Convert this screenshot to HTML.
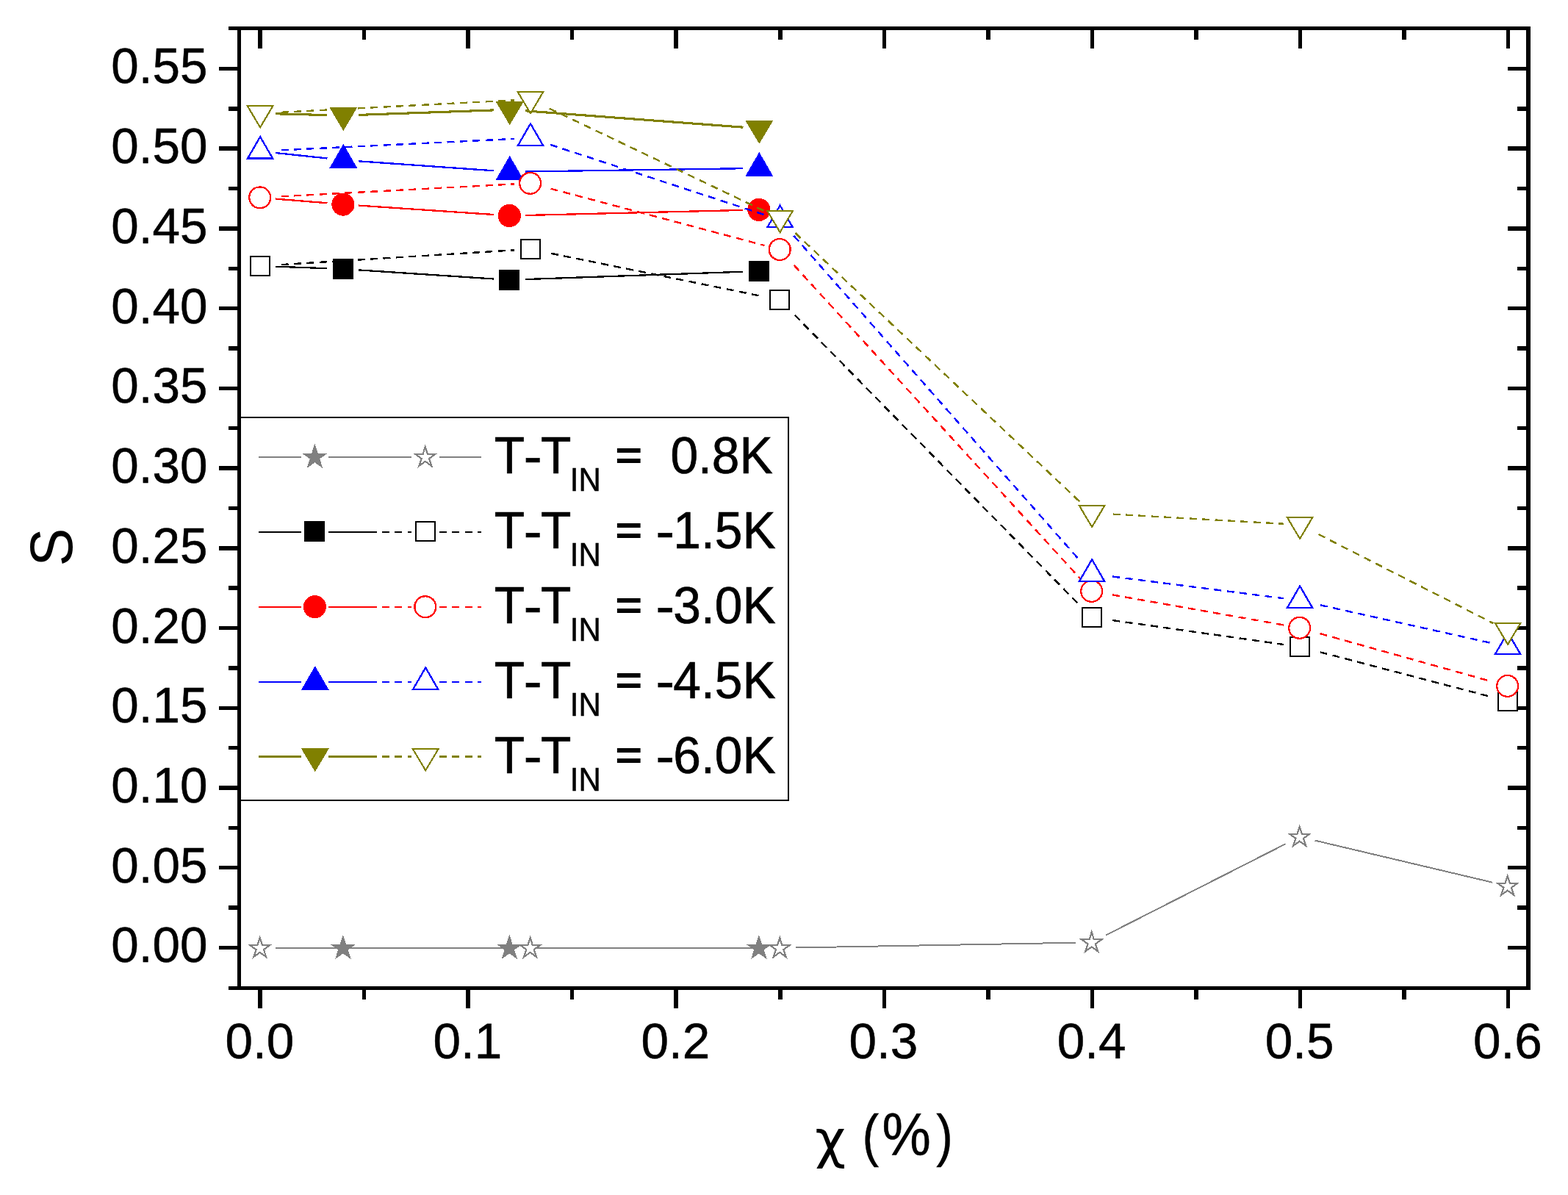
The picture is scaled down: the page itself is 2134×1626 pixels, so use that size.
<!DOCTYPE html>
<html lang="en"><head><meta charset="utf-8"><title>S vs chi</title>
<style>html,body{margin:0;padding:0;background:#fff;overflow:hidden}svg{display:block}text{font-family:"Liberation Sans",sans-serif;fill:#000}</style></head>
<body>
<svg width="2134" height="1626" viewBox="0 0 2134 1626" role="img" aria-label="Order parameter S versus concentration chi">
<rect x="0" y="0" width="2134" height="1626" fill="#ffffff"/>
<g shape-rendering="crispEdges" fill="#000">
<rect x="323.0" y="36.0" width="5.0" height="1311.0"/>
<rect x="2077.0" y="36.0" width="6.0" height="1311.0"/>
<rect x="323.0" y="36.0" width="1760.0" height="5.0"/>
<rect x="323.0" y="1342.0" width="1760.0" height="5.0"/>
<rect x="310.5" y="1342.0" width="13.5" height="5.0"/>
<rect x="298.0" y="1286.7" width="26.0" height="5.5"/>
<rect x="2052.0" y="1286.7" width="26.0" height="5.5"/>
<rect x="310.5" y="1232.3" width="13.5" height="5.5"/>
<rect x="2064.5" y="1232.3" width="13.5" height="5.5"/>
<rect x="298.0" y="1177.9" width="26.0" height="5.5"/>
<rect x="2052.0" y="1177.9" width="26.0" height="5.5"/>
<rect x="310.5" y="1123.6" width="13.5" height="5.5"/>
<rect x="2064.5" y="1123.6" width="13.5" height="5.5"/>
<rect x="298.0" y="1069.2" width="26.0" height="5.5"/>
<rect x="2052.0" y="1069.2" width="26.0" height="5.5"/>
<rect x="310.5" y="1014.8" width="13.5" height="5.5"/>
<rect x="2064.5" y="1014.8" width="13.5" height="5.5"/>
<rect x="298.0" y="960.5" width="26.0" height="5.5"/>
<rect x="2052.0" y="960.5" width="26.0" height="5.5"/>
<rect x="310.5" y="906.1" width="13.5" height="5.5"/>
<rect x="2064.5" y="906.1" width="13.5" height="5.5"/>
<rect x="298.0" y="851.8" width="26.0" height="5.5"/>
<rect x="2052.0" y="851.8" width="26.0" height="5.5"/>
<rect x="310.5" y="797.4" width="13.5" height="5.5"/>
<rect x="2064.5" y="797.4" width="13.5" height="5.5"/>
<rect x="298.0" y="743.0" width="26.0" height="5.5"/>
<rect x="2052.0" y="743.0" width="26.0" height="5.5"/>
<rect x="310.5" y="688.7" width="13.5" height="5.5"/>
<rect x="2064.5" y="688.7" width="13.5" height="5.5"/>
<rect x="298.0" y="634.3" width="26.0" height="5.5"/>
<rect x="2052.0" y="634.3" width="26.0" height="5.5"/>
<rect x="310.5" y="579.9" width="13.5" height="5.5"/>
<rect x="2064.5" y="579.9" width="13.5" height="5.5"/>
<rect x="298.0" y="525.6" width="26.0" height="5.5"/>
<rect x="2052.0" y="525.6" width="26.0" height="5.5"/>
<rect x="310.5" y="471.2" width="13.5" height="5.5"/>
<rect x="2064.5" y="471.2" width="13.5" height="5.5"/>
<rect x="298.0" y="416.9" width="26.0" height="5.5"/>
<rect x="2052.0" y="416.9" width="26.0" height="5.5"/>
<rect x="310.5" y="362.5" width="13.5" height="5.5"/>
<rect x="2064.5" y="362.5" width="13.5" height="5.5"/>
<rect x="298.0" y="308.1" width="26.0" height="5.5"/>
<rect x="2052.0" y="308.1" width="26.0" height="5.5"/>
<rect x="310.5" y="253.8" width="13.5" height="5.5"/>
<rect x="2064.5" y="253.8" width="13.5" height="5.5"/>
<rect x="298.0" y="199.4" width="26.0" height="5.5"/>
<rect x="2052.0" y="199.4" width="26.0" height="5.5"/>
<rect x="310.5" y="145.0" width="13.5" height="5.5"/>
<rect x="2064.5" y="145.0" width="13.5" height="5.5"/>
<rect x="298.0" y="90.7" width="26.0" height="5.5"/>
<rect x="2052.0" y="90.7" width="26.0" height="5.5"/>
<rect x="310.5" y="36.0" width="13.5" height="5.0"/>
<rect x="351.2" y="40.0" width="5.5" height="26.0"/>
<rect x="351.2" y="1346.0" width="5.5" height="26.0"/>
<rect x="492.8" y="40.0" width="5.5" height="13.5"/>
<rect x="492.8" y="1346.0" width="5.5" height="13.5"/>
<rect x="634.3" y="40.0" width="5.5" height="26.0"/>
<rect x="634.3" y="1346.0" width="5.5" height="26.0"/>
<rect x="775.9" y="40.0" width="5.5" height="13.5"/>
<rect x="775.9" y="1346.0" width="5.5" height="13.5"/>
<rect x="917.4" y="40.0" width="5.5" height="26.0"/>
<rect x="917.4" y="1346.0" width="5.5" height="26.0"/>
<rect x="1059.0" y="40.0" width="5.5" height="13.5"/>
<rect x="1059.0" y="1346.0" width="5.5" height="13.5"/>
<rect x="1200.5" y="40.0" width="5.5" height="26.0"/>
<rect x="1200.5" y="1346.0" width="5.5" height="26.0"/>
<rect x="1342.0" y="40.0" width="5.5" height="13.5"/>
<rect x="1342.0" y="1346.0" width="5.5" height="13.5"/>
<rect x="1483.6" y="40.0" width="5.5" height="26.0"/>
<rect x="1483.6" y="1346.0" width="5.5" height="26.0"/>
<rect x="1625.1" y="40.0" width="5.5" height="13.5"/>
<rect x="1625.1" y="1346.0" width="5.5" height="13.5"/>
<rect x="1766.7" y="40.0" width="5.5" height="26.0"/>
<rect x="1766.7" y="1346.0" width="5.5" height="26.0"/>
<rect x="1908.2" y="40.0" width="5.5" height="13.5"/>
<rect x="1908.2" y="1346.0" width="5.5" height="13.5"/>
<rect x="2049.7" y="40.0" width="5.5" height="26.0"/>
<rect x="2049.7" y="1346.0" width="5.5" height="26.0"/>
</g>
<g font-size="67.7px">
<text transform="translate(282.5,1309.4) scale(1,1.017)" text-anchor="end" font-size="67.5px" stroke="#000" stroke-width="0.5">0.00</text>
<text transform="translate(282.5,1200.7) scale(1,1.017)" text-anchor="end" font-size="67.5px" stroke="#000" stroke-width="0.5">0.05</text>
<text transform="translate(282.5,1092.0) scale(1,1.017)" text-anchor="end" font-size="67.5px" stroke="#000" stroke-width="0.5">0.10</text>
<text transform="translate(282.5,983.2) scale(1,1.017)" text-anchor="end" font-size="67.5px" stroke="#000" stroke-width="0.5">0.15</text>
<text transform="translate(282.5,874.5) scale(1,1.017)" text-anchor="end" font-size="67.5px" stroke="#000" stroke-width="0.5">0.20</text>
<text transform="translate(282.5,765.8) scale(1,1.017)" text-anchor="end" font-size="67.5px" stroke="#000" stroke-width="0.5">0.25</text>
<text transform="translate(282.5,657.0) scale(1,1.017)" text-anchor="end" font-size="67.5px" stroke="#000" stroke-width="0.5">0.30</text>
<text transform="translate(282.5,548.3) scale(1,1.017)" text-anchor="end" font-size="67.5px" stroke="#000" stroke-width="0.5">0.35</text>
<text transform="translate(282.5,439.6) scale(1,1.017)" text-anchor="end" font-size="67.5px" stroke="#000" stroke-width="0.5">0.40</text>
<text transform="translate(282.5,330.9) scale(1,1.017)" text-anchor="end" font-size="67.5px" stroke="#000" stroke-width="0.5">0.45</text>
<text transform="translate(282.5,222.2) scale(1,1.017)" text-anchor="end" font-size="67.5px" stroke="#000" stroke-width="0.5">0.50</text>
<text transform="translate(282.5,113.4) scale(1,1.017)" text-anchor="end" font-size="67.5px" stroke="#000" stroke-width="0.5">0.55</text>
<text transform="translate(353.3,1440.2) scale(1,1.017)" text-anchor="middle" font-size="67.5px" stroke="#000" stroke-width="0.5">0.0</text>
<text transform="translate(636.4,1440.2) scale(1,1.017)" text-anchor="middle" font-size="67.5px" stroke="#000" stroke-width="0.5">0.1</text>
<text transform="translate(919.5,1440.2) scale(1,1.017)" text-anchor="middle" font-size="67.5px" stroke="#000" stroke-width="0.5">0.2</text>
<text transform="translate(1202.5,1440.2) scale(1,1.017)" text-anchor="middle" font-size="67.5px" stroke="#000" stroke-width="0.5">0.3</text>
<text transform="translate(1485.6,1440.2) scale(1,1.017)" text-anchor="middle" font-size="67.5px" stroke="#000" stroke-width="0.5">0.4</text>
<text transform="translate(1768.7,1440.2) scale(1,1.017)" text-anchor="middle" font-size="67.5px" stroke="#000" stroke-width="0.5">0.5</text>
<text transform="translate(2051.8,1440.2) scale(1,1.017)" text-anchor="middle" font-size="67.5px" stroke="#000" stroke-width="0.5">0.6</text>
</g>
<text transform="translate(98.3,744.7) rotate(-90) scale(1,1.05)" font-size="77.7px" text-anchor="middle">S</text>
<text transform="translate(1109.3,1575.0) scale(1.035,1.01)" style="font-family:'DejaVu Sans',sans-serif" font-size="70px">χ</text>
<text transform="translate(1173.5,1571.7) scale(0.87,1.0)" font-size="78px" stroke="#000" stroke-width="0.4">(</text>
<text transform="translate(1200.4,1572.2) scale(0.95,1.045)" font-size="78.5px" stroke="#000" stroke-width="0.5">%</text>
<text transform="translate(1274.2,1571.7) scale(0.87,1.0)" font-size="78px" stroke="#000" stroke-width="0.4">)</text>
<rect x="327" y="568" width="746" height="521" fill="none" stroke="#000" stroke-width="2" shape-rendering="crispEdges"/>
<g shape-rendering="crispEdges">
<path d="M375.2 1289.9L445.4 1289.9M488.4 1289.9L671.8 1289.9M714.8 1289.9L1011.4 1289.9" fill="none" stroke="#808080" stroke-width="2.0"/>
<polygon points="466.9,1271.7 471.1,1284.6 484.6,1284.6 473.7,1292.5 477.8,1305.3 466.9,1297.4 456.0,1305.3 460.1,1292.5 449.2,1284.6 462.7,1284.6" fill="#808080"/>
<polygon points="693.3,1271.7 697.5,1284.6 711.0,1284.6 700.1,1292.5 704.2,1305.3 693.3,1297.4 682.4,1305.3 686.5,1292.5 675.6,1284.6 689.1,1284.6" fill="#808080"/>
<polygon points="1032.9,1271.7 1037.1,1284.6 1050.6,1284.6 1039.7,1292.5 1043.8,1305.3 1032.9,1297.4 1022.0,1305.3 1026.1,1292.5 1015.2,1284.6 1028.7,1284.6" fill="#808080"/>
<path d="M375.2 362.7L445.4 365.2M488.4 367.4L671.8 379.5M714.8 380.1L1011.4 369.7" fill="none" stroke="#000000" stroke-width="2.3"/>
<rect x="453" y="352" width="28" height="28" fill="#000000"/>
<rect x="679" y="367" width="28" height="28" fill="#000000"/>
<rect x="1019" y="355" width="28" height="28" fill="#000000"/>
<path d="M375.1 270.6L445.5 276.3M488.4 279.6L671.8 292.0M714.8 293.0L1011.4 285.9" fill="none" stroke="#ff0000" stroke-width="2.3"/>
<circle cx="466.9" cy="278.1" r="15.6" fill="#ff0000"/>
<circle cx="693.3" cy="293.5" r="15.6" fill="#ff0000"/>
<circle cx="1032.9" cy="285.4" r="15.6" fill="#ff0000"/>
<path d="M375.1 208.0L445.5 215.5M488.3 219.3L671.9 232.3M714.8 233.5L1011.4 229.2" fill="none" stroke="#0000ff" stroke-width="2.3"/>
<polygon points="467.3,195.9 486.3,228.8 448.3,228.8" fill="#0000ff"/>
<polygon points="693.7,211.9 712.7,244.8 674.7,244.8" fill="#0000ff"/>
<polygon points="1033.3,207.0 1052.3,239.9 1014.3,239.9" fill="#0000ff"/>
<path d="M375.2 154.8L445.4 156.6M488.4 156.4L671.8 149.9M714.7 150.8L1011.5 173.2" fill="none" stroke="#808000" stroke-width="3.1"/>
<polygon points="467.3,178.1 486.3,146.1 448.3,146.1" fill="#808000"/>
<polygon points="693.7,170.2 712.7,138.2 674.7,138.2" fill="#808000"/>
<polygon points="1033.3,195.8 1052.3,163.8 1014.3,163.8" fill="#808000"/>
<path d="M375.2 1289.9L700.1 1289.9M743.1 1289.9L1039.7 1289.9M1082.7 1289.5L1464.2 1282.7M1504.9 1272.6L1749.5 1148.3M1789.6 1143.6L2030.8 1200.6" fill="none" stroke="#808080" stroke-width="2.0"/>
<polygon points="353.7,1276.0 356.9,1285.9 367.4,1285.9 358.9,1292.1 362.2,1302.1 353.7,1295.9 345.2,1302.1 348.5,1292.1 340.0,1285.9 350.5,1285.9" fill="#ffffff" stroke="#808080" stroke-width="2.2" stroke-linejoin="miter" stroke-miterlimit="10"/>
<polygon points="721.6,1276.0 724.8,1285.9 735.3,1285.9 726.8,1292.1 730.1,1302.1 721.6,1295.9 713.1,1302.1 716.4,1292.1 707.9,1285.9 718.4,1285.9" fill="#ffffff" stroke="#808080" stroke-width="2.2" stroke-linejoin="miter" stroke-miterlimit="10"/>
<polygon points="1061.2,1276.0 1064.4,1285.9 1074.9,1285.9 1066.4,1292.1 1069.7,1302.1 1061.2,1295.9 1052.7,1302.1 1056.0,1292.1 1047.5,1285.9 1058.0,1285.9" fill="#ffffff" stroke="#808080" stroke-width="2.2" stroke-linejoin="miter" stroke-miterlimit="10"/>
<polygon points="1485.7,1268.4 1488.9,1278.3 1499.4,1278.3 1490.9,1284.5 1494.2,1294.5 1485.7,1288.3 1477.2,1294.5 1480.5,1284.5 1472.0,1278.3 1482.5,1278.3" fill="#ffffff" stroke="#808080" stroke-width="2.2" stroke-linejoin="miter" stroke-miterlimit="10"/>
<polygon points="1768.7,1124.7 1771.9,1134.6 1782.4,1134.6 1773.9,1140.8 1777.2,1150.8 1768.7,1144.6 1760.2,1150.8 1763.5,1140.8 1755.0,1134.6 1765.5,1134.6" fill="#ffffff" stroke="#808080" stroke-width="2.2" stroke-linejoin="miter" stroke-miterlimit="10"/>
<polygon points="2051.7,1191.7 2054.9,1201.6 2065.4,1201.6 2056.9,1207.8 2060.2,1217.8 2051.7,1211.6 2043.2,1217.8 2046.5,1207.8 2038.0,1201.6 2048.5,1201.6" fill="#ffffff" stroke="#808080" stroke-width="2.2" stroke-linejoin="miter" stroke-miterlimit="10"/>
<path d="M375.2 360.6L700.1 340.3M742.7 343.3L1040.1 403.7M1076.3 423.3L1470.6 824.7M1507.0 843.0L1747.4 877.0M1789.5 885.4L2030.9 948.6" fill="none" stroke="#000000" stroke-width="2.4" stroke-dasharray="10 7.4" stroke-dashoffset="10"/>
<rect x="341" y="349" width="26" height="26" fill="#ffffff" stroke="#000000" stroke-width="2"/>
<rect x="709" y="326" width="26" height="26" fill="#ffffff" stroke="#000000" stroke-width="2"/>
<rect x="1048" y="395" width="26" height="26" fill="#ffffff" stroke="#000000" stroke-width="2"/>
<rect x="1473" y="827" width="26" height="26" fill="#ffffff" stroke="#000000" stroke-width="2"/>
<rect x="1756" y="867" width="26" height="26" fill="#ffffff" stroke="#000000" stroke-width="2"/>
<rect x="2039" y="941" width="26" height="26" fill="#ffffff" stroke="#000000" stroke-width="2"/>
<path d="M375.2 267.7L700.1 250.4M742.4 254.8L1040.4 334.0M1075.7 355.4L1471.2 788.5M1506.9 808.1L1747.5 850.6M1789.4 860.1L2031.0 927.6" fill="none" stroke="#ff0000" stroke-width="2.4" stroke-dasharray="10 7.4" stroke-dashoffset="10"/>
<circle cx="353.7" cy="268.8" r="14.45" fill="#ffffff" stroke="#ff0000" stroke-width="2.3"/>
<circle cx="721.6" cy="249.3" r="14.45" fill="#ffffff" stroke="#ff0000" stroke-width="2.3"/>
<circle cx="1061.2" cy="339.5" r="14.45" fill="#ffffff" stroke="#ff0000" stroke-width="2.3"/>
<circle cx="1485.7" cy="804.4" r="14.45" fill="#ffffff" stroke="#ff0000" stroke-width="2.3"/>
<circle cx="1768.7" cy="854.3" r="14.45" fill="#ffffff" stroke="#ff0000" stroke-width="2.3"/>
<circle cx="2051.7" cy="933.4" r="14.45" fill="#ffffff" stroke="#ff0000" stroke-width="2.3"/>
<path d="M375.2 204.7L700.1 188.9M742.0 194.6L1040.8 292.4M1075.4 315.2L1471.5 764.8M1507.0 783.6L1747.4 814.3M1789.7 821.7L2030.7 875.3" fill="none" stroke="#0000ff" stroke-width="2.4" stroke-dasharray="10 7.4" stroke-dashoffset="10"/>
<polygon points="354.1,186.1 371.1,215.5 337.1,215.5" fill="#ffffff" stroke="#0000ff" stroke-width="2.3" stroke-linejoin="miter"/>
<polygon points="722.0,168.3 739.0,197.7 705.0,197.7" fill="#ffffff" stroke="#0000ff" stroke-width="2.3" stroke-linejoin="miter"/>
<polygon points="1061.6,279.5 1078.6,308.9 1044.6,308.9" fill="#ffffff" stroke="#0000ff" stroke-width="2.3" stroke-linejoin="miter"/>
<polygon points="1486.1,761.3 1503.1,790.7 1469.1,790.7" fill="#ffffff" stroke="#0000ff" stroke-width="2.3" stroke-linejoin="miter"/>
<polygon points="1769.1,797.4 1786.1,826.8 1752.1,826.8" fill="#ffffff" stroke="#0000ff" stroke-width="2.3" stroke-linejoin="miter"/>
<polygon points="2052.1,860.4 2069.1,889.8 2035.1,889.8" fill="#ffffff" stroke="#0000ff" stroke-width="2.3" stroke-linejoin="miter"/>
<path d="M375.2 153.2L700.1 136.3M741.0 144.4L1041.8 287.8M1076.8 311.8L1470.1 683.2M1507.2 699.2L1747.2 712.8M1787.9 723.7L2032.5 848.2" fill="none" stroke="#808000" stroke-width="2.4" stroke-dasharray="10 7.4" stroke-dashoffset="10"/>
<polygon points="354.1,173.3 371.3,144.4 336.9,144.4" fill="#ffffff" stroke="#808000" stroke-width="2.1" stroke-linejoin="miter"/>
<polygon points="722.0,154.2 739.2,125.3 704.8,125.3" fill="#ffffff" stroke="#808000" stroke-width="2.1" stroke-linejoin="miter"/>
<polygon points="1061.6,316.0 1078.8,287.1 1044.4,287.1" fill="#ffffff" stroke="#808000" stroke-width="2.1" stroke-linejoin="miter"/>
<polygon points="1486.1,717.0 1503.3,688.1 1468.9,688.1" fill="#ffffff" stroke="#808000" stroke-width="2.1" stroke-linejoin="miter"/>
<polygon points="1769.1,733.0 1786.3,704.1 1751.9,704.1" fill="#ffffff" stroke="#808000" stroke-width="2.1" stroke-linejoin="miter"/>
<polygon points="2052.1,876.9 2069.3,848.0 2034.9,848.0" fill="#ffffff" stroke="#808000" stroke-width="2.1" stroke-linejoin="miter"/>
<path d="M352.3 621.8L409.9 621.8M447.4 621.8L513 621.8" fill="none" stroke="#808080" stroke-width="2.0"/>
<path d="M513 621.8L560.3 621.8M597.8 621.8L655 621.8" fill="none" stroke="#808080" stroke-width="2.0"/>
<polygon points="428.4,603.6 432.6,616.5 446.1,616.5 435.2,624.4 439.3,637.2 428.4,629.3 417.5,637.2 421.6,624.4 410.7,616.5 424.2,616.5" fill="#808080"/>
<polygon points="578.8,607.9 582.0,617.8 592.5,617.8 584.0,624.0 587.3,634.0 578.8,627.8 570.3,634.0 573.6,624.0 565.1,617.8 575.6,617.8" fill="#ffffff" stroke="#808080" stroke-width="2.2" stroke-linejoin="miter" stroke-miterlimit="10"/>
<path d="M352.3 723.9L409.9 723.9M447.4 723.9L513 723.9" fill="none" stroke="#000000" stroke-width="2.3"/>
<path d="M520 723.9L560.3 723.9" fill="none" stroke="#000000" stroke-width="2.3" stroke-dasharray="10 7.4"/>
<path d="M597.8 723.9L655 723.9" fill="none" stroke="#000000" stroke-width="2.3" stroke-dasharray="10 7.4"/>
<rect x="414" y="709" width="28" height="28" fill="#000000"/>
<rect x="566" y="710" width="26" height="26" fill="#ffffff" stroke="#000000" stroke-width="2"/>
<path d="M352.3 825.7L409.9 825.7M447.4 825.7L513 825.7" fill="none" stroke="#ff0000" stroke-width="2.3"/>
<path d="M520 825.7L560.3 825.7" fill="none" stroke="#ff0000" stroke-width="2.3" stroke-dasharray="10 7.4"/>
<path d="M597.8 825.7L655 825.7" fill="none" stroke="#ff0000" stroke-width="2.3" stroke-dasharray="10 7.4"/>
<circle cx="428.4" cy="825.7" r="15.6" fill="#ff0000"/>
<circle cx="578.8" cy="825.7" r="14.45" fill="#ffffff" stroke="#ff0000" stroke-width="2.3"/>
<path d="M352.3 928.0L409.9 928.0M447.4 928.0L513 928.0" fill="none" stroke="#0000ff" stroke-width="2.3"/>
<path d="M520 928.0L560.3 928.0" fill="none" stroke="#0000ff" stroke-width="2.3" stroke-dasharray="10 7.4"/>
<path d="M597.8 928.0L655 928.0" fill="none" stroke="#0000ff" stroke-width="2.3" stroke-dasharray="10 7.4"/>
<polygon points="428.8,906.1 447.8,939.0 409.8,939.0" fill="#0000ff"/>
<polygon points="579.2,908.4 596.2,937.8 562.2,937.8" fill="#ffffff" stroke="#0000ff" stroke-width="2.3" stroke-linejoin="miter"/>
<path d="M352.3 1029.3L409.9 1029.3M447.4 1029.3L513 1029.3" fill="none" stroke="#808000" stroke-width="3.1"/>
<path d="M520 1029.3L560.3 1029.3" fill="none" stroke="#808000" stroke-width="3.1" stroke-dasharray="10 7.4"/>
<path d="M597.8 1029.3L655 1029.3" fill="none" stroke="#808000" stroke-width="3.1" stroke-dasharray="10 7.4"/>
<polygon points="428.8,1050.3 447.8,1018.3 409.8,1018.3" fill="#808000"/>
<polygon points="579.2,1048.3 596.4,1019.4 562.0,1019.4" fill="#ffffff" stroke="#808000" stroke-width="2.1" stroke-linejoin="miter"/>
</g>
<g font-size="67.7px">
<text transform="translate(672.7,644.3) scale(1,1.035)" stroke="#000" stroke-width="0.7">T</text>
<text transform="translate(712.7,645.3) scale(1.1,1.035)" stroke="#000" stroke-width="0.7">-</text>
<text transform="translate(735.9,644.3) scale(1,1.035)" stroke="#000" stroke-width="0.7">T</text>
<text transform="translate(775.8,667.8) scale(1,1.035)" font-size="42px" stroke="#000" stroke-width="0.5">IN</text>
<text transform="translate(837.9,620.0) scale(0.9,0.82)" y="22.3" stroke="#000" stroke-width="2.4">=</text>
<text transform="translate(912.4,644.3) scale(1,1.035)" stroke="#000" stroke-width="0.7">0.8K</text>
<text transform="translate(672.7,746.0) scale(1,1.035)" stroke="#000" stroke-width="0.7">T</text>
<text transform="translate(712.7,747.0) scale(1.1,1.035)" stroke="#000" stroke-width="0.7">-</text>
<text transform="translate(735.9,746.0) scale(1,1.035)" stroke="#000" stroke-width="0.7">T</text>
<text transform="translate(775.8,769.5) scale(1,1.035)" font-size="42px" stroke="#000" stroke-width="0.5">IN</text>
<text transform="translate(837.9,721.7) scale(0.9,0.82)" y="22.3" stroke="#000" stroke-width="2.4">=</text>
<text transform="translate(892.6,747.0) scale(1.13,1.035)" stroke="#000" stroke-width="0.7">-</text>
<text transform="translate(916.3,746.0) scale(1,1.035)" stroke="#000" stroke-width="0.7">1.5K</text>
<text transform="translate(672.7,848.0) scale(1,1.035)" stroke="#000" stroke-width="0.7">T</text>
<text transform="translate(712.7,849.0) scale(1.1,1.035)" stroke="#000" stroke-width="0.7">-</text>
<text transform="translate(735.9,848.0) scale(1,1.035)" stroke="#000" stroke-width="0.7">T</text>
<text transform="translate(775.8,871.5) scale(1,1.035)" font-size="42px" stroke="#000" stroke-width="0.5">IN</text>
<text transform="translate(837.9,823.7) scale(0.9,0.82)" y="22.3" stroke="#000" stroke-width="2.4">=</text>
<text transform="translate(892.6,849.0) scale(1.13,1.035)" stroke="#000" stroke-width="0.7">-</text>
<text transform="translate(916.3,848.0) scale(1,1.035)" stroke="#000" stroke-width="0.7">3.0K</text>
<text transform="translate(672.7,950.0) scale(1,1.035)" stroke="#000" stroke-width="0.7">T</text>
<text transform="translate(712.7,951.0) scale(1.1,1.035)" stroke="#000" stroke-width="0.7">-</text>
<text transform="translate(735.9,950.0) scale(1,1.035)" stroke="#000" stroke-width="0.7">T</text>
<text transform="translate(775.8,973.5) scale(1,1.035)" font-size="42px" stroke="#000" stroke-width="0.5">IN</text>
<text transform="translate(837.9,925.7) scale(0.9,0.82)" y="22.3" stroke="#000" stroke-width="2.4">=</text>
<text transform="translate(892.6,951.0) scale(1.13,1.035)" stroke="#000" stroke-width="0.7">-</text>
<text transform="translate(916.3,950.0) scale(1,1.035)" stroke="#000" stroke-width="0.7">4.5K</text>
<text transform="translate(672.7,1052.0) scale(1,1.035)" stroke="#000" stroke-width="0.7">T</text>
<text transform="translate(712.7,1053.0) scale(1.1,1.035)" stroke="#000" stroke-width="0.7">-</text>
<text transform="translate(735.9,1052.0) scale(1,1.035)" stroke="#000" stroke-width="0.7">T</text>
<text transform="translate(775.8,1075.5) scale(1,1.035)" font-size="42px" stroke="#000" stroke-width="0.5">IN</text>
<text transform="translate(837.9,1027.7) scale(0.9,0.82)" y="22.3" stroke="#000" stroke-width="2.4">=</text>
<text transform="translate(892.6,1053.0) scale(1.13,1.035)" stroke="#000" stroke-width="0.7">-</text>
<text transform="translate(916.3,1052.0) scale(1,1.035)" stroke="#000" stroke-width="0.7">6.0K</text>
</g>
</svg>
</body></html>
